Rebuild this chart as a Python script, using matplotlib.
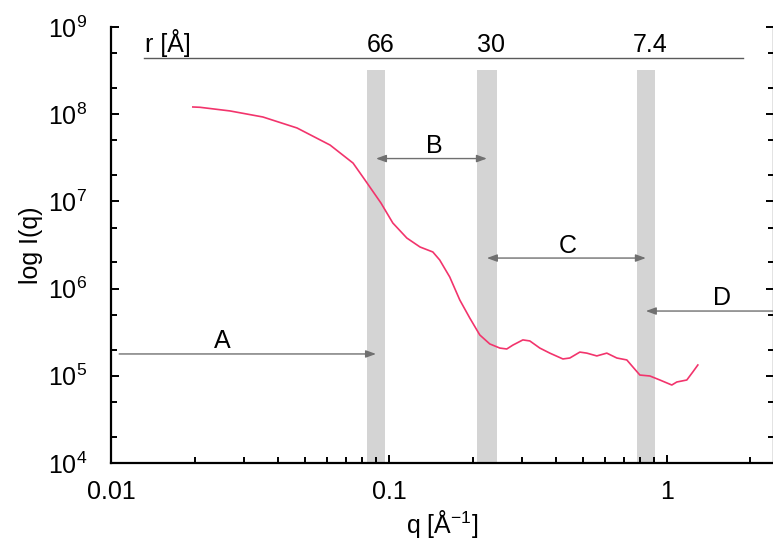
import numpy as np
import matplotlib
matplotlib.use("Agg")
import matplotlib.pyplot as plt
from matplotlib.ticker import LogLocator, FixedLocator, FixedFormatter, FuncFormatter, NullFormatter

# Scattering curve I(q)
q = [0.0197, 0.0209, 0.0268, 0.0352, 0.0467, 0.0614, 0.0743, 0.0820, 0.0936,
     0.1033, 0.1160, 0.1294, 0.1439, 0.1523, 0.1655, 0.1799, 0.1954, 0.2123,
     0.2306, 0.2507, 0.2655, 0.2793, 0.3034, 0.3214, 0.3491, 0.3793, 0.4227,
     0.4477, 0.4864, 0.5152, 0.5598, 0.6081, 0.6607, 0.7178, 0.7551, 0.7998,
     0.8690, 0.9441, 1.042, 1.086, 1.180, 1.241, 1.293]
intensity = [1.21e8, 1.20e8, 1.09e8, 9.29e7, 6.95e7, 4.43e7, 2.75e7, 1.76e7, 9.59e6,
             5.65e6, 3.80e6, 3.00e6, 2.63e6, 2.13e6, 1.36e6, 7.40e5, 4.60e5, 2.94e5,
             2.32e5, 2.08e5, 2.03e5, 2.25e5, 2.58e5, 2.51e5, 2.08e5, 1.82e5, 1.56e5,
             1.60e5, 1.87e5, 1.82e5, 1.69e5, 1.82e5, 1.60e5, 1.52e5, 1.26e5, 1.02e5,
             9.95e4, 8.95e4, 7.84e4, 8.49e4, 8.95e4, 1.11e5, 1.33e5]

# Shaded q windows and their real-space sizes
band_lo = [0.0834, 0.2073, 0.7798]
band_hi = [0.0968, 0.2446, 0.9058]
band_top = 3.2e8
r_labels = ["66", "30", "7.4"]
r_title = "r [Å]"
r_line_q = [0.0131, 1.876]
r_line_I = 4.4e8

# Region arrows A-D
region_labels = ["A", "B", "C", "D"]
region_I = [1.78e5, 3.1e7, 2.24e6, 5.53e5]
region_label_q = [0.0251, 0.1452, 0.4406, 1.577]
arrow_left_q = 0.0107
arrow_right_q = 2.8

# Axis ticks
x_ticks = [0.01, 0.1, 1]
x_tick_labels = ["0.01", "0.1", "1"]
y_exponents = [4, 5, 6, 7, 8, 9]

plt.rcParams["font.family"] = ["Liberation Sans", "DejaVu Sans"]
plt.rcParams["font.size"] = 18
plt.rcParams["mathtext.fontset"] = "custom"
plt.rcParams["mathtext.rm"] = "Liberation Sans"
plt.rcParams["mathtext.it"] = "Liberation Sans:italic"
plt.rcParams["mathtext.bf"] = "Liberation Sans:bold"
plt.rcParams["mathtext.sf"] = "Liberation Sans"

W, H = 773, 547
fig = plt.figure(figsize=(W / 100, H / 100), dpi=100)
ax = fig.add_axes([111 / W, 84 / H, (774 - 111) / W, (463 - 27) / H])
ax.set_xscale("log")
ax.set_yscale("log")
ax.set_xlim(0.01, 2.43)
ax.set_ylim(10 ** y_exponents[0], 10 ** y_exponents[-1])

# grey windows
band_c = np.sqrt(np.array(band_lo) * np.array(band_hi))
for lo, hi in zip(band_lo, band_hi):
    ax.fill_between([lo, hi], [10 ** y_exponents[0]] * 2, [band_top] * 2,
                    color="#d4d4d4", lw=0, zorder=1)

# curve
ax.plot(q, intensity, color="#f2346c", lw=1.2, zorder=3)

# r scale line and labels
ax.plot(r_line_q, [r_line_I] * 2, color="#5a5a5a", lw=1.0, zorder=2, clip_on=False)
ax.annotate(r_title, xy=(r_line_q[0], r_line_I), xytext=(1, 4.5), textcoords="offset points",
            ha="left", va="baseline", fontsize=18)
for c, lab in zip(band_c, r_labels):
    ax.annotate(lab, xy=(c, r_line_I), xytext=(3, 4.5), textcoords="offset points",
                ha="center", va="baseline", fontsize=18)

# region arrows
starts = [arrow_left_q, band_c[0], band_c[1], arrow_right_q]
ends = [band_c[0], band_c[1], band_c[2], band_c[2]]
styles = ["-|>", "<|-|>", "<|-|>", "-|>"]
for s, e, yv, st in zip(starts, ends, region_I, styles):
    ax.annotate("", xy=(e, yv), xytext=(s, yv),
                arrowprops=dict(arrowstyle=st + ",head_length=0.6,head_width=0.22",
                                color="#707070", lw=1.0, shrinkA=0, shrinkB=0,
                                mutation_scale=10),
                annotation_clip=False, zorder=4)
for lq, yv, lab in zip(region_label_q, region_I, region_labels):
    ax.annotate(lab, xy=(lq, yv), xytext=(0, 4), textcoords="offset points",
                ha="center", va="baseline", fontsize=18)

# axes styling
for side in ["left", "bottom", "right"]:
    ax.spines[side].set_linewidth(1.6)
ax.spines["top"].set_visible(False)

ax.xaxis.set_major_locator(FixedLocator(x_ticks))
ax.xaxis.set_major_formatter(FixedFormatter(x_tick_labels))
ax.xaxis.set_minor_locator(LogLocator(base=10, subs=np.arange(2, 10)))
ax.xaxis.set_minor_formatter(NullFormatter())
ax.yaxis.set_major_locator(FixedLocator([10.0 ** e for e in y_exponents]))
ax.yaxis.set_major_formatter(FuncFormatter(lambda v, p: r"$\mathregular{10^{%d}}$" % round(np.log10(v))))
ax.yaxis.set_minor_locator(LogLocator(base=10, subs=[2, 5]))
ax.yaxis.set_minor_formatter(NullFormatter())

ax.tick_params(which="both", direction="in", top=False, right=True, labelright=False, width=1.4)
ax.tick_params(which="major", length=6)
ax.tick_params(which="minor", length=4.5)
ax.tick_params(axis="x", which="major", pad=12, labelsize=18)
ax.tick_params(axis="y", which="major", pad=17, labelsize=18)

ax.set_xlabel(r"q [Å$^{\mathregular{-1}}$]", fontsize=18, labelpad=3)
ax.set_ylabel("log I(q)", fontsize=18, labelpad=4)

fig.savefig("out.png", dpi=100)
